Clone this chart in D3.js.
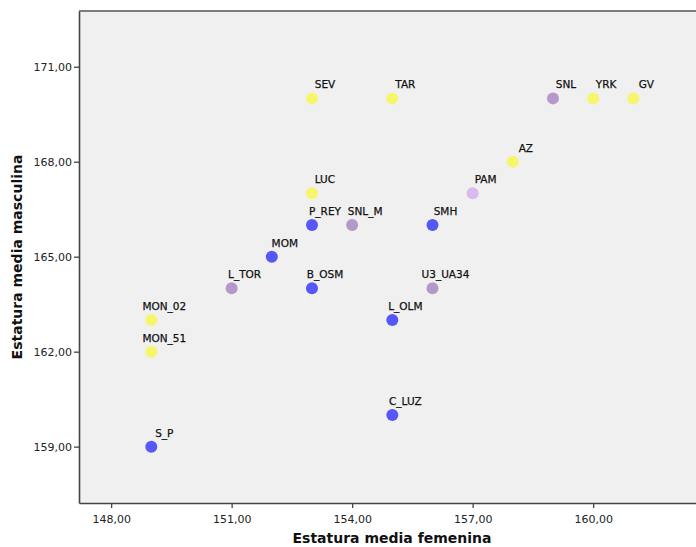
<!DOCTYPE html>
<html>
<head>
<meta charset="utf-8">
<script src="https://cdn.jsdelivr.net/npm/d3@7"></script>
<style>
  body { margin: 0; background: #fff; }
  svg text { font-family: "DejaVu Sans", sans-serif; }
</style>
</head>
<body>
<div id="chart"></div>
<script>
// data
const names = ["SEV", "TAR", "SNL", "YRK", "GV", "AZ", "PAM", "LUC", "P_REY", "SNL_M",
               "SMH", "MOM", "L_TOR", "B_OSM", "U3_UA34", "L_OLM", "MON_02", "MON_51", "C_LUZ", "S_P"];
const femenina = [153, 155, 159, 160, 161, 158, 157, 153, 153, 154,
                  156, 152, 151, 153, 156, 155, 149, 149, 155, 149];
const masculina = [170, 170, 170, 170, 170, 168, 167, 167, 166, 166,
                   166, 165, 164, 164, 164, 163, 163, 162, 160, 159];
const grupo = ["y", "y", "p", "y", "y", "y", "lp", "y", "b", "p",
               "b", "b", "p", "b", "p", "b", "y", "y", "b", "b"];
const xTicks = [148, 151, 154, 157, 160];
const yTicks = [159, 162, 165, 168, 171];

const colors = {y: "#f6f66c", b: "#5558f6", p: "#b498c9", lp: "#d8baec"};

const W = 696, H = 547;
const margin = {top: 11, right: 0, bottom: 44, left: 79};
const width = W - margin.left - margin.right,
      height = H - margin.top - margin.bottom;

const x = d3.scaleLinear().domain([147.2, 162.56]).range([0, width]);
const y = d3.scaleLinear().domain([157.22, 172.76]).range([height, 0]);

const svg = d3.select("#chart").append("svg")
    .attr("width", W).attr("height", H)
  .append("g")
    .attr("transform", "translate(" + margin.left + "," + margin.top + ")");

svg.append("rect")
    .attr("width", width).attr("height", height)
    .attr("fill", "#f0f0f0");

const fmt = d => d.toFixed(2).replace(".", ",");

const xAxis = svg.append("g")
    .attr("transform", "translate(0," + height + ")")
    .call(d3.axisBottom(x).tickValues(xTicks).tickFormat(fmt).tickSize(5).tickSizeOuter(0));
const yAxis = svg.append("g")
    .call(d3.axisLeft(y).tickValues(yTicks).tickFormat(fmt).tickSize(5).tickSizeOuter(0));

[xAxis, yAxis].forEach(a => {
  a.select(".domain").attr("stroke", "#444").attr("stroke-width", 1.6);
  a.selectAll(".tick line").attr("stroke", "#444").attr("stroke-width", 1.3);
  a.selectAll(".tick text").attr("fill", "#222").style("font-size", "11px");
});
xAxis.selectAll(".tick text").attr("dy", "1.05em");
yAxis.selectAll(".tick text").attr("x", -7);

// top border
svg.append("line")
    .attr("x1", 0).attr("x2", width).attr("y1", 0).attr("y2", 0)
    .attr("stroke", "#555").attr("stroke-width", 1.6);

const data = names.map((n, i) => ({name: n, fx: femenina[i], my: masculina[i], g: grupo[i]}));

svg.selectAll("circle.pt")
  .data(data).enter().append("circle")
    .attr("class", "pt")
    .attr("cx", d => x(d.fx))
    .attr("cy", d => y(d.my))
    .attr("r", 6)
    .attr("fill", d => colors[d.g]);

svg.selectAll("text.lbl")
  .data(data).enter().append("text")
    .attr("class", "lbl")
    .attr("x", d => x(d.fx) + 13)
    .attr("y", d => y(d.my) - 10)
    .attr("text-anchor", "middle")
    .attr("fill", "#111")
    .attr("stroke", "#111")
    .attr("stroke-width", 0.25)
    .style("font-size", "10.5px")
    .text(d => d.name);

// axis titles
svg.append("text")
    .attr("x", 313)
    .attr("y", height + 40)
    .attr("text-anchor", "middle")
    .attr("fill", "#111")
    .style("font-size", "14px")
    .style("font-weight", "bold")
    .text("Estatura media femenina");

svg.append("text")
    .attr("transform", "translate(" + (-57) + "," + (246) + ") rotate(-90)")
    .attr("text-anchor", "middle")
    .attr("fill", "#111")
    .style("font-size", "14px")
    .style("font-weight", "bold")
    .text("Estatura media masculina");
</script>
</body>
</html>
